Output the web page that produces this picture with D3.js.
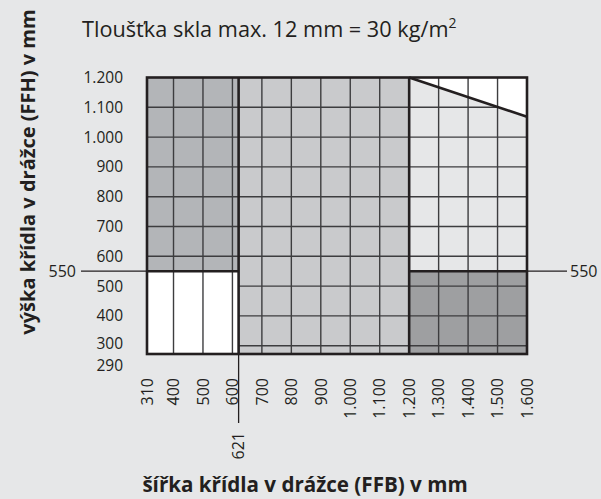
<!DOCTYPE html>
<html>
<head>
<meta charset="utf-8">
<script src="https://cdn.jsdelivr.net/npm/d3@7"></script>
<style>
  body { margin: 0; background: #e6e7e8; }
  svg { display: block; }
  text { font-family: "Open Sans", sans-serif; fill: #231f20; }
</style>
</head>
<body>
<svg id="chart" width="601" height="499"></svg>
<script>
// tick values (mm)
var xTicks = [310, 400, 500, 600, 700, 800, 900, 1000, 1100, 1200, 1300, 1400, 1500, 1600];
var yTicks = [290, 300, 400, 500, 600, 700, 800, 900, 1000, 1100, 1200];
var xGrid = [400, 500, 600, 700, 800, 900, 1000, 1100, 1300, 1400, 1500];
var yGrid = [300, 400, 500, 600, 700, 800, 900, 1000, 1100];

// zones: [x0, x1, y0, y1]
var zones = [
  [310, 621, 550, 1200],
  [310, 621, 290, 550],
  [621, 1200, 290, 1200],
  [1200, 1600, 550, 1200],
  [1200, 1600, 290, 550]
];
var zoneFill = ["#b3b5b8", "#ffffff", "#c9cacc", "#e6e7e8", "#9e9fa1"];
var zoneHGrid = [true, false, true, true, true];

// cut-off corner (width, height)
var cutLine = [[1200, 1200], [1600, 1068]];
var cutArea = [[1200, 1200], [1600, 1200], [1600, 1068]];

// marked limits
var splitX = 621;
var splitY = 550;
var midX = 1200;

var title = "Tloušťka skla max. 12 mm = 30 kg/m";
var xTitle = "šířka křídla v drážce (FFB) v mm";
var yTitle = "výška křídla v drážce (FFH) v mm";

var fmt = function(d) { return d >= 1000 ? d3.format(",")(d).replace(",", ".") : String(d); };

var svg = d3.select("#chart");

var x = d3.scaleLinear()
    .domain([310, 1600])
    .range([147, 527]);

var y = d3.scaleLinear()
    .domain([290, 300, 1200])
    .range([354, 345.7, 77.5]);

var grid = svg.append("g");

// zone fills
grid.selectAll("rect.zone")
  .data(zones)
  .enter().append("rect")
    .attr("class", "zone")
    .attr("x", function(d) { return x(d[0]); })
    .attr("y", function(d) { return y(d[3]); })
    .attr("width", function(d) { return x(d[1]) - x(d[0]); })
    .attr("height", function(d) { return y(d[2]) - y(d[3]); })
    .attr("fill", function(d, i) { return zoneFill[i]; });

// horizontal grid
var hSeg = [];
zones.forEach(function(z, i) {
  if (!zoneHGrid[i]) return;
  yGrid.forEach(function(v) {
    if (v > z[2] && v < z[3]) hSeg.push([z[0], z[1], v]);
  });
});
grid.selectAll("line.h")
  .data(hSeg)
  .enter().append("line")
    .attr("x1", function(d) { return x(d[0]); })
    .attr("x2", function(d) { return x(d[1]); })
    .attr("y1", function(d) { return y(d[2]); })
    .attr("y2", function(d) { return y(d[2]); })
    .attr("stroke", "#3d3d3f")
    .attr("stroke-width", 1.4);

// white corner
grid.append("path")
    .attr("d", d3.line().x(function(d) { return x(d[0]); }).y(function(d) { return y(d[1]); })(cutArea) + "Z")
    .attr("fill", "#ffffff");

// vertical grid
var vSeg = [];
zones.forEach(function(z) {
  xGrid.forEach(function(v) {
    if (v > z[0] && v < z[1]) vSeg.push([v, z[2], z[3]]);
  });
});
grid.selectAll("line.v")
  .data(vSeg)
  .enter().append("line")
    .attr("x1", function(d) { return x(d[0]); })
    .attr("x2", function(d) { return x(d[0]); })
    .attr("y1", function(d) { return y(d[1]); })
    .attr("y2", function(d) { return y(d[2]); })
    .attr("stroke", "#3d3d3f")
    .attr("stroke-width", 1.4);

// thin extension lines to the limit labels
svg.append("line")
    .attr("x1", x(splitX)).attr("x2", x(splitX))
    .attr("y1", y(290)).attr("y2", 423)
    .attr("stroke", "#231f20").attr("stroke-width", 1.3);
svg.append("line")
    .attr("x1", 81).attr("x2", x(310))
    .attr("y1", y(splitY)).attr("y2", y(splitY))
    .attr("stroke", "#231f20").attr("stroke-width", 1.3);
svg.append("line")
    .attr("x1", x(1600)).attr("x2", 567)
    .attr("y1", y(splitY)).attr("y2", y(splitY))
    .attr("stroke", "#231f20").attr("stroke-width", 1.3);

// heavy lines
var heavy = svg.append("g")
    .attr("stroke", "#231f20")
    .attr("stroke-width", 2.6)
    .attr("fill", "none");
heavy.append("line")
    .attr("x1", x(splitX)).attr("x2", x(splitX))
    .attr("y1", y(290)).attr("y2", y(1200));
heavy.append("line")
    .attr("x1", x(midX)).attr("x2", x(midX))
    .attr("y1", y(290)).attr("y2", y(1200));
heavy.append("line")
    .attr("x1", x(310)).attr("x2", x(splitX))
    .attr("y1", y(splitY)).attr("y2", y(splitY));
heavy.append("line")
    .attr("x1", x(midX)).attr("x2", x(1600))
    .attr("y1", y(splitY)).attr("y2", y(splitY));
heavy.append("line")
    .attr("x1", x(cutLine[0][0])).attr("x2", x(cutLine[1][0]))
    .attr("y1", y(cutLine[0][1])).attr("y2", y(cutLine[1][1]));
heavy.append("rect")
    .attr("x", x(310)).attr("y", y(1200))
    .attr("width", x(1600) - x(310))
    .attr("height", y(290) - y(1200));

// y tick labels (the two lowest are spread apart)
svg.append("g").selectAll("text")
  .data(yTicks)
  .enter().append("text")
    .attr("x", 123)
    .attr("y", function(d) { return y(d) + (d === 290 ? 11 : d === 300 ? -2.2 : 0); })
    .attr("dy", "0.36em")
    .attr("text-anchor", "end")
    .style("font-size", "15.5px")
    .text(fmt);

// x tick labels
svg.append("g").selectAll("text")
  .data(xTicks)
  .enter().append("text")
    .attr("transform", function(d) { return "translate(" + x(d) + ",378) rotate(-90)"; })
    .attr("dy", "0.36em")
    .attr("text-anchor", "end")
    .style("font-size", "16px")
    .text(fmt);

// limit labels
svg.append("text")
    .attr("transform", "translate(" + x(splitX) + ",432) rotate(-90)")
    .attr("dy", "0.36em")
    .attr("text-anchor", "end")
    .style("font-size", "16px")
    .text(splitX);
svg.append("text")
    .attr("x", 76).attr("y", y(splitY)).attr("dy", "0.36em")
    .attr("text-anchor", "end")
    .style("font-size", "16px")
    .text(splitY);
svg.append("text")
    .attr("x", 570).attr("y", y(splitY)).attr("dy", "0.36em")
    .style("font-size", "16px")
    .text(splitY);

// titles
var t = svg.append("text")
    .attr("x", 82).attr("y", 37)
    .style("font-size", "21.7px")
    .text(title);
t.append("tspan")
    .attr("dy", -9)
    .style("font-size", "14px")
    .text("2");

svg.append("text")
    .attr("x", 305).attr("y", 492)
    .attr("text-anchor", "middle")
    .style("font-size", "20.6px")
    .style("font-weight", "bold")
    .text(xTitle);

svg.append("text")
    .attr("transform", "translate(35,172) rotate(-90)")
    .attr("text-anchor", "middle")
    .style("font-size", "20px")
    .style("font-weight", "bold")
    .text(yTitle);
</script>
</body>
</html>
